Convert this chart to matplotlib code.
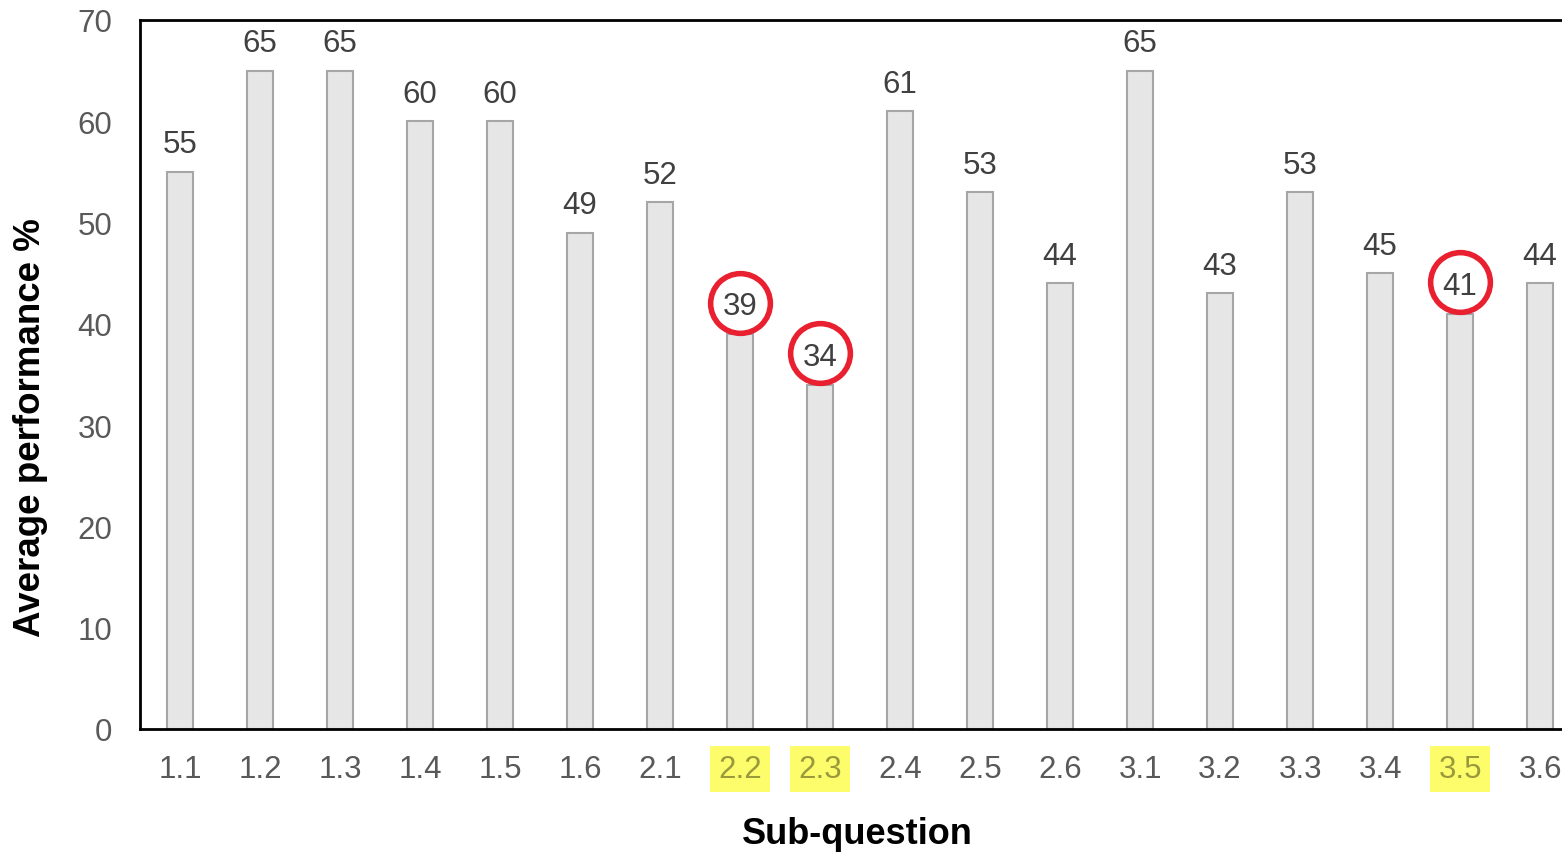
import numpy as np
import matplotlib
matplotlib.use("Agg")
import matplotlib.pyplot as plt
from matplotlib.transforms import offset_copy

plt.rcParams['font.family'] = ['Liberation Sans', 'DejaVu Sans']

sub_questions = ['1.1', '1.2', '1.3', '1.4', '1.5', '1.6',
                 '2.1', '2.2', '2.3', '2.4', '2.5', '2.6',
                 '3.1', '3.2', '3.3', '3.4', '3.5', '3.6']
performance = [55, 65, 65, 60, 60, 49, 52, 39, 34, 61, 53, 44, 65, 43, 53, 45, 41, 44]
flagged = ['2.2', '2.3', '3.5']

fig = plt.figure(figsize=(15.62, 8.53), dpi=100)
ax = fig.add_axes([0.0896, 0.1442, 0.922, 0.8312])

x = np.arange(len(sub_questions))
ax.bar(x, performance, width=0.33, color='#e6e6e6', edgecolor='#a6a6a6', linewidth=1.5)

ax.set_xlim(-0.5, len(sub_questions) - 0.5)
ax.set_ylim(0, 70)
ax.set_yticks(range(0, 71, 10))
ax.set_xticks(x)
ax.set_xticklabels(sub_questions)
ax.tick_params(axis='both', length=0, labelsize=22.5, labelcolor='#595959')
ax.tick_params(axis='x', pad=18)
ax.tick_params(axis='y', pad=20)

for side in ['left', 'bottom', 'top', 'right']:
    ax.spines[side].set_color('black')
    ax.spines[side].set_linewidth(2)

# value labels above each bar
for xi, val in zip(x, performance):
    ax.annotate(str(val), (xi, val), xytext=(0, 9), textcoords='offset points',
                ha='center', va='bottom', fontsize=22.5, color='#404040',
                annotation_clip=False)

# red rings around the labels of the flagged sub-questions
ring_trans = offset_copy(ax.transData, fig=fig, x=0, y=22.5, units='points')
for xi, val, name in zip(x, performance, sub_questions):
    if name in flagged:
        ax.plot(xi, val, marker='o', markersize=43, markerfacecolor='none',
                markeredgecolor='#e8202f', markeredgewidth=4,
                transform=ring_trans, clip_on=False, zorder=4)

# highlighter marks behind the flagged tick labels
for lbl in ax.get_xticklabels():
    if lbl.get_text() in flagged:
        lbl.set_color('#9a9a3c')
        lbl.set_bbox(dict(facecolor='#fdfd6c', edgecolor='none', pad=6))

ax.set_xlabel('Sub-question', fontsize=26, fontweight='bold', va='center')
ax.xaxis.set_label_coords(0.498, -0.148)
ax.set_ylabel('Average performance %', fontsize=26.5, fontweight='bold', va='center')
ax.yaxis.set_label_coords(-0.076, 0.426)

fig.savefig('out.png', dpi=100)
